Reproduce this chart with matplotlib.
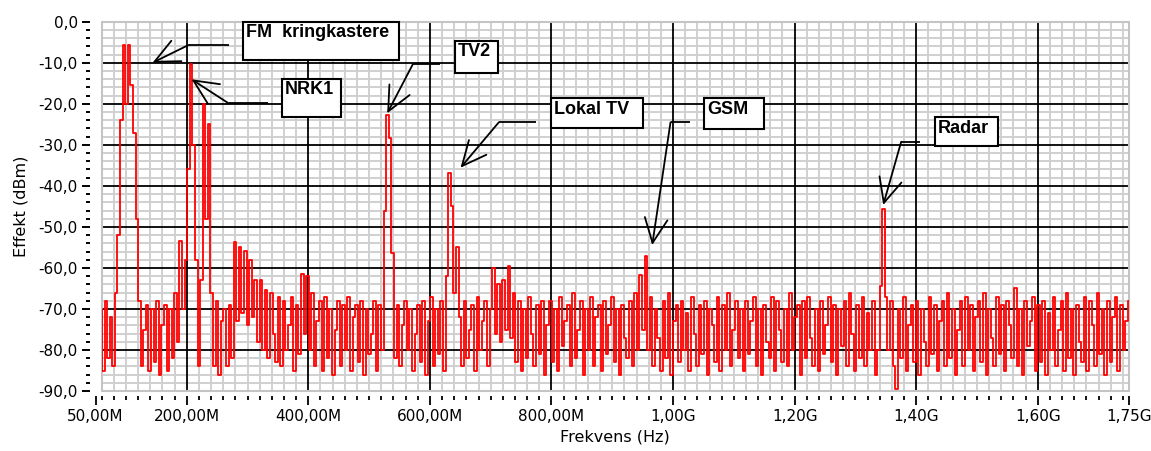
import numpy as np
import matplotlib
matplotlib.use("Agg")
import matplotlib.pyplot as plt
from matplotlib.patches import Rectangle
from matplotlib.ticker import FixedLocator, MultipleLocator
from matplotlib.transforms import offset_copy

# ---------------- data (sweep 50 MHz .. 1750 MHz, 401 points) ----------------
f_start_mhz = 50.0
f_stop_mhz = 1750.0
n_points = 401

power_seg1 = [-76, -84, -70, -85, -68, -82, -72, -84, -66, -52, -24, -5.6, -20, -5.6, -15.5, -27, -48, -68,
              -84, -75, -69, -85, -70, -83, -68, -86, -74, -69, -85, -70,
              -82, -66, -78, -53.4, -70, -58, -36, -10.4, -30, -58, -84, -63, -20, -48, -25, -66]
power_seg2 = [-84, -68, -86, -73, -70, -84, -69, -82,
              -53.6, -73, -54.8, -71, -55.8, -74, -58, -72, -63, -78, -63, -80, -65.3, -82, -66, -76,
              -83, -67, -84, -68, -80, -74, -67, -85, -69, -81,
              -61.5, -76, -62, -80, -66, -84, -73, -68, -85, -67, -82, -70, -86, -75, -68, -84,
              -69, -80, -67, -85, -72, -69, -83, -68, -86, -70, -81, -76, -68, -85, -69]
power_seg3 = [-80, -46, -22.7, -28.4, -56.4, -82, -69, -84, -74, -68, -80, -70, -85, -76, -69, -83,
              -68, -86, -73, -67, -84, -70, -81, -68, -85,
              -62, -36.9, -45, -66, -54.8, -72, -84, -68, -82, -75, -69, -85, -67, -80, -73, -68,
              -84, -70,
              -60, -76, -64, -78, -63, -75, -59.5, -77, -66, -83, -68, -85]
power_seg4 = [-70, -82, -67, -76, -84, -69, -81, -68, -86, -74,
              -68, -83, -70, -85, -67, -79, -73, -69, -84, -66,
              -82, -75, -68, -86, -70, -80, -67, -84, -72, -69,
              -85, -68, -81, -74, -67, -83, -70, -86, -69, -77,
              -82, -68, -84, -66,
              -80, -61.7, -75, -57.1, -80,
              -67, -84, -70, -77, -85, -68, -82, -66, -86, -73,
              -69, -83, -68, -80, -71, -85, -67, -76, -84, -69,
              -81, -68, -86, -70, -74, -83, -67, -85, -69, -80,
              -66, -84, -75, -68, -82, -70]
power_seg5 = [-85, -68, -81, -73, -67, -84, -70, -86, -69, -78,
              -82, -67, -85, -68, -75, -83, -70, -84, -66, -80,
              -72, -69, -86, -68, -82, -67, -77, -84, -70, -85,
              -68, -81, -74, -67, -83, -69, -86, -70, -79, -68,
              -84, -66, -76, -85, -69, -82, -67, -84, -71, -80,
              -68, -86, -80,
              -64.5, -45.7, -67,
              -80, -68, -84, -89.5, -70,
              -82, -67, -85, -74, -69, -83, -68, -86, -70, -78, -84, -67, -81, -69, -85, -73,
              -68, -84, -66]
power_seg6 = [-82, -70, -86, -75, -68, -84, -67, -80, -69, -85,
              -72, -68, -83, -66, -86, -70, -77, -84, -67, -81,
              -69, -85, -68, -74, -82, -65, -84, -70, -86, -68,
              -79, -73, -67, -85, -69, -83, -68, -86, -71, -80,
              -67, -84, -75, -68, -85, -66, -82, -70, -86, -69,
              -78, -83, -67, -85, -68, -74, -84, -66, -81, -70,
              -86, -68, -83, -72, -67, -85, -69, -80, -73, -68]

x_tick_mhz = [200, 400, 600, 800, 1000, 1200, 1400, 1600, 1750]
x_tick_labels = ["200,00M", "400,00M", "600,00M", "800,00M", "1,00G", "1,20G", "1,40G", "1,60G", "1,75G"]
x_first_tick_mhz = 50
x_first_tick_label = "50,00M"
y_ticks = [0, -10, -20, -30, -40, -50, -60, -70, -80, -90]
y_tick_labels = ["0,0", "-10,0", "-20,0", "-30,0", "-40,0", "-50,0", "-60,0", "-70,0", "-80,0", "-90,0"]

ann_labels = ["FM  kringkastere", "NRK1", "TV2", "Lokal TV", "GSM", "Radar"]

# ---------------- layout of the annotations (MHz, dBm) ----------------
ann_boxes = [(293.0, 548.4, 0.0, -9.33), (356.0, 453.0, -13.96, -23.29), (640.5, 712.4, -4.63, -12.43),
             (799.6, 950.3, -18.66, -25.83), (1051.7, 1149.3, -18.66, -26.22), (1430.6, 1534.8, -23.29, -30.21)]
ann_paths = [[(268.8, -5.68), (203.0, -5.68), (143.8, -9.99)],
             [(332.9, -19.88), (268.8, -19.88), (207.9, -14.03)],
             [(616.3, -10.38), (571.9, -10.38), (529.8, -22.32)],
             [(774.9, -24.51), (713.4, -24.51), (650.4, -35.58)],
             [(1027.6, -24.51), (995.8, -24.51), (965.7, -54.41)],
             [(1405.9, -29.24), (1375.3, -29.24), (1345.7, -44.66)]]

power = np.array(power_seg1 + power_seg2 + power_seg3 + power_seg4 + power_seg5 + power_seg6)
freqs = np.linspace(f_start_mhz, f_stop_mhz, n_points)

# ---------------- figure ----------------
fig = plt.figure(figsize=(11.51, 4.51), dpi=100)
ax = fig.add_axes([0.08827, 0.13282, 0.89262, 0.81907])
ax.set_xlim(60, 1750)
ax.set_ylim(-90, 0)

# grid
ax.xaxis.set_major_locator(FixedLocator(x_tick_mhz))
ax.set_xticklabels(x_tick_labels)
ax.xaxis.set_minor_locator(MultipleLocator(20))
ax.yaxis.set_major_locator(FixedLocator(y_ticks))
ax.set_yticklabels(y_tick_labels)
ax.yaxis.set_minor_locator(MultipleLocator(2))
ax.grid(which='minor', color='#d0d0d0', lw=1.4, zorder=0)
ax.grid(which='major', visible=False)
for v in x_tick_mhz[:-1]:
    ax.axvline(v, color='black', lw=1.3, zorder=1)
for v in y_ticks[1:-1]:
    ax.axhline(v, color='black', lw=1.3, zorder=1)
ax.set_axisbelow(True)

for s in ax.spines.values():
    s.set_color('none')
ax.spines['left'].set_position(('outward', 8.4))
ax.spines['bottom'].set_position(('outward', 3.6))
ax.add_patch(Rectangle((0, 0), 1, 1, transform=ax.transAxes, fill=False,
                       edgecolor='#c4c4c4', lw=1.5, zorder=2.6, clip_on=False))

ax.tick_params(axis='y', which='major', length=5.8, width=1.4, pad=2.9, labelsize=11)
ax.tick_params(axis='y', which='minor', length=2.9, width=1.4)
ax.tick_params(axis='x', which='major', length=6.5, width=1.3, pad=3.0, labelsize=11)
ax.tick_params(axis='x', which='minor', length=2.9, width=1.3)

# extra 50 MHz tick just left of the plotted span
tick_tr = offset_copy(ax.get_xaxis_transform(), fig=fig, y=-3.6, units='points')
ax.plot([x_first_tick_mhz], [0], marker=3, markersize=6.5, mew=1.3, color='black',
        transform=tick_tr, clip_on=False)
ax.annotate(x_first_tick_label, xy=(x_first_tick_mhz, 0), xycoords=('data', 'axes fraction'),
            xytext=(0, -(3.6 + 6.5 + 3.0)), textcoords='offset points', ha='center', va='top',
            fontsize=11, annotation_clip=False)

ax.set_xlabel('Frekvens (Hz)', fontsize=11.5, labelpad=4)
ax.set_ylabel('Effekt (dBm)', fontsize=11.5, labelpad=7)

# trace
ax.step(freqs, power, where='mid', color='#ff0000', lw=1.3, zorder=3)

# annotations
txt_tr = offset_copy(ax.transData, fig=fig, x=2.2, y=-1.8, units='points')
for label, (x0, x1, y0, y1), path in zip(ann_labels, ann_boxes, ann_paths):
    ax.add_patch(Rectangle((x0, y1), x1 - x0, y0 - y1, facecolor='white', edgecolor='black',
                           lw=1.5, zorder=5, clip_on=False))
    ax.text(x0, y0, label, transform=txt_tr, ha='left', va='top', fontsize=13,
            fontweight='bold', family=['Liberation Sans', 'DejaVu Sans'], zorder=6)
    xs = [p[0] for p in path]
    ys = [p[1] for p in path]
    ax.plot(xs[:2], ys[:2], color='black', lw=1.3, zorder=5, clip_on=False,
            solid_capstyle='butt')
    ax.annotate('', xy=path[2], xytext=path[1],
                arrowprops=dict(arrowstyle='->,head_length=1.76,head_width=0.82',
                                mutation_scale=10, lw=1.3, color='black',
                                shrinkA=0, shrinkB=0),
                zorder=5, annotation_clip=False)

fig.savefig('out.png', dpi=100, facecolor='white')
